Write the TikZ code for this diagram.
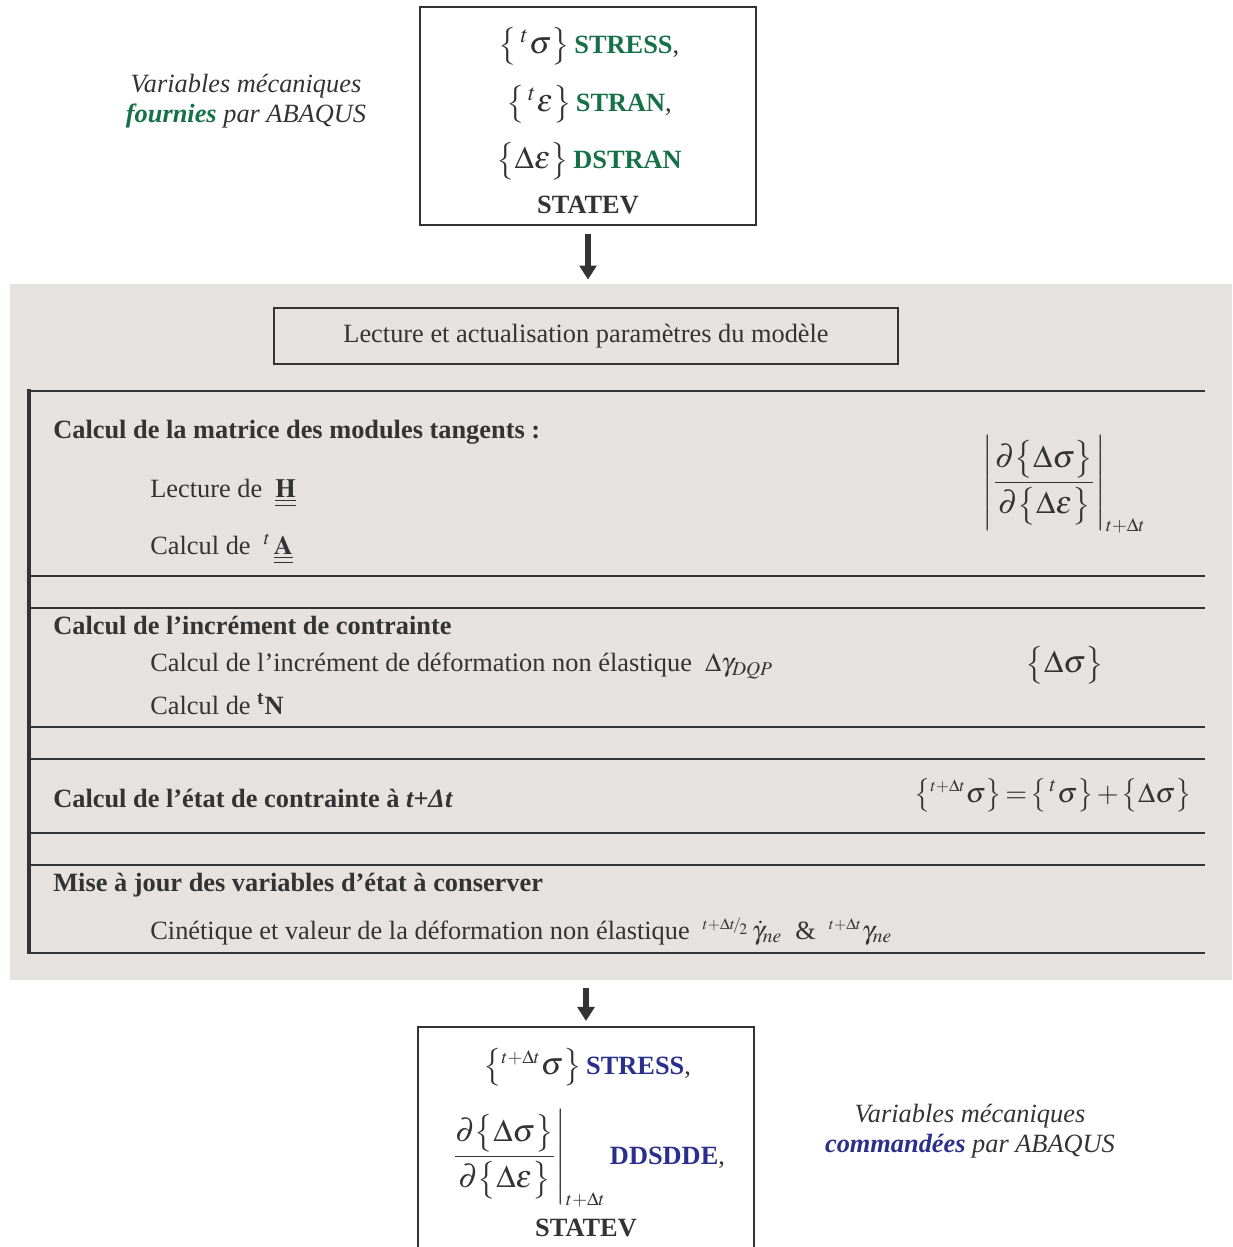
\documentclass[tikz,border=0pt]{standalone}
\usepackage{amsmath}
\usepackage{mathptmx}
\usepackage{fontspec}
\setmainfont{Liberation Serif}
\usetikzlibrary{arrows.meta, positioning, fit}
\usepackage{xcolor}
\definecolor{inkgrey}{HTML}{333333}
\definecolor{panelgrey}{HTML}{E5E2DF}
\definecolor{abqgreen}{HTML}{16704A}
\definecolor{abqblue}{HTML}{2B2F8C}
\newcommand{\kwin}[1]{\textcolor{abqgreen}{\textbf{#1}}}
\newcommand{\kwout}[1]{\textcolor{abqblue}{\textbf{#1}}}
\newcommand{\dblbar}[1]{\underline{\underline{\mathbf{#1}}}}
\newcommand{\bigmath}[1]{{\fontsize{18}{22}\selectfont$#1$}}
\newcommand{\midmath}[1]{{\fontsize{16}{20}\selectfont$#1$}}
\newcommand{\brc}[1]{\bigl\{#1\bigr\}}
\newcommand{\tdt}{{\scriptscriptstyle t+\Delta t}}
\newcommand{\dsde}{\dfrac{\partial\brc{\Delta\sigma}}{\partial\brc{\Delta\varepsilon}}}
\tikzset{
  varbox/.style={rectangle, draw=inkgrey, line width=1.2pt, inner sep=0pt},
  stepbox/.style={rectangle, draw=inkgrey, line width=1.2pt,
                  minimum width=12.48cm, minimum height=1.12cm, align=center},
  bgpanel/.style={rectangle, fill=panelgrey, inner sep=0pt},
  rowline/.style={draw=inkgrey, line width=1.2pt},
  sidebar/.style={draw=inkgrey, line width=2.3pt},
  flowarrow/.style={-{Triangle[length=8pt,width=9.5pt]}, line width=3.4pt, draw=inkgrey},
  rowtitle/.style={anchor=base west, inner sep=0pt, font=\fontsize{15}{18}\selectfont\bfseries},
  rowitem/.style={anchor=base west, inner sep=0pt},
  rowmath/.style={anchor=center, inner sep=0pt},
  boxline/.style={anchor=center, inner sep=0pt},
  sidenote/.style={align=center, inner sep=0pt, font=\fontsize{15}{17}\selectfont\itshape},
}

\begin{document}
\begin{tikzpicture}[x=0.02cm, y=-0.02cm, text=inkgrey,
                    font=\fontsize{15}{18}\selectfont]
  \useasboundingbox (0,0) rectangle (1232,1247);
  \clip (0,0) rectangle (1232,1247);

  % --- input from ABAQUS ---
  \node[varbox, fit={(420,7) (756,225)}] (inbox) {};
  \node[boxline] (instress) at (589,46) {\bigmath{\brc{\,{}^{t}\sigma}}\,\kwin{STRESS},};
  \node[boxline] (instran)  at (589,104) {\bigmath{\brc{\,{}^{t}\varepsilon}}\,\kwin{STRAN},};
  \node[boxline] (indstran) at (589,161) {\bigmath{\brc{\Delta\varepsilon}}\,\kwin{DSTRAN}};
  \node[rowitem, anchor=base] (instatev) at (588,213) {\textbf{STATEV}};
  \node[sidenote] (innote) at (246,101) {Variables mécaniques\\\textbf{\textcolor{abqgreen}{fournies}} par ABAQUS};

  % --- UMAT body ---
  \node[bgpanel, fit={(10,284) (1232,980)}] (panel) {};
  \node[stepbox] (lecture) at (586,336) {Lecture et actualisation paramètres du modèle};

  \draw[sidebar] (29,389) -- (29,954);
  \foreach \y in {391,576,608,727,759,833,865,953}
    \draw[rowline] (28,\y) -- (1205,\y);

  % tangent matrix
  \node[rowtitle] (tgttitle) at (53,438) {Calcul de la matrice des modules tangents :};
  \node[rowitem] (readH) at (150,497) {Lecture de \ $\dblbar{H}$};
  \node[rowitem] (calcA) at (150,554) {Calcul de \ ${}^{t}\,\dblbar{A}$};
  \node[rowmath] (tgtmath) at (1064,484) {\bigmath{\left|\dsde\right|_{\tdt}}};

  % stress increment
  \node[rowtitle] (inctitle) at (53,634) {Calcul de l’incrément de contrainte};
  \node[rowitem] (calcgam) at (150,671) {Calcul de l’incrément de déformation non élastique \ $\Delta\gamma_{DQP}$};
  \node[rowitem] (calcN) at (150,714) {Calcul de \textbf{\textsuperscript{t}N}};
  \node[rowmath] (incmath) at (1065,665) {\bigmath{\brc{\Delta\sigma}}};

  % updated stress
  \node[rowtitle] (newtitle) at (53,807) {Calcul de l’état de contrainte à \textit{t+Δt}};
  \node[rowmath] (newmath) at (1053,795)
    {\midmath{\brc{{}^{\tdt}\sigma}\mkern2mu{=}\mkern2mu\brc{\,{}^{t}\sigma}\mkern2mu{+}\mkern2mu\brc{\Delta\sigma}}};

  % state variables
  \node[rowitem] (majtitle) at (53,891) {\textbf{Mise à jour des variables d’état à conserver}};
  \node[rowitem] (majitem) at (150,939)
    {Cinétique et valeur de la déformation non élastique \
     ${}^{\scriptscriptstyle t+\Delta t\!/\!_{2}}\,\dot{\gamma}_{ne}$\ \ \&\ \ ${}^{\tdt}\gamma_{ne}$};

  % --- output to ABAQUS ---
  \node[varbox, fit={(418,1027) (754,1270)}] (outbox) {};
  \node[boxline] (outstress) at (587,1067) {\bigmath{\brc{{}^{\tdt}\sigma}}\,\kwout{STRESS},};
  \node[boxline] (outddsdde) at (588,1158)
    {\bigmath{\left.\dsde\right|_{\tdt}}\,\kwout{DDSDDE},};
  \node[rowitem, anchor=base] (outstatev) at (586,1236) {\textbf{STATEV}};
  \node[sidenote] (outnote) at (970,1131) {Variables mécaniques\\\textbf{\textcolor{abqblue}{commandées}} par ABAQUS};

  \draw[flowarrow, shorten <=4.5pt, shorten >=2.3pt] (inbox.south) -- (panel.north -| inbox.south);
  \draw[flowarrow, shorten <=4.5pt, shorten >=2.8pt] (panel.south -| outbox.north) -- (outbox.north);
\end{tikzpicture}
\end{document}
